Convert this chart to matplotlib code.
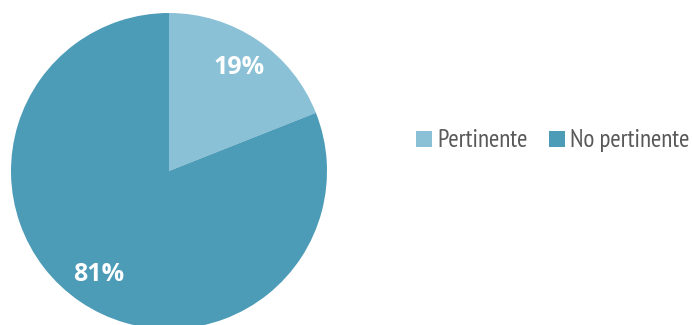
import matplotlib
matplotlib.use("Agg")
import matplotlib.pyplot as plt
from matplotlib.patches import Patch

labels = ["Pertinente", "No pertinente"]
values = [19, 81]
colors = ["#8bc1d6", "#4c9bb7"]

plt.rcParams["font.family"] = ["PT Sans Narrow", "DejaVu Sans"]

W, H = 692, 325
fig = plt.figure(figsize=(W / 100, H / 100), dpi=100)

# pie axes: centre (169, 171) px, radius 158 px
cx, cy, r = 169, 171, 158
ax = fig.add_axes([(cx - r) / W, (H - cy - r) / H, 2 * r / W, 2 * r / H])
wedges, texts, autotexts = ax.pie(
    values, colors=colors, startangle=90, counterclock=False,
    radius=1, autopct=lambda p: f"{p:.0f}%", pctdistance=0.79,
    wedgeprops=dict(linewidth=0))
for t in autotexts:
    t.set_color("white")
    t.set_fontsize(18)
    t.set_fontweight("bold")
    t.set_fontfamily(["Open Sans", "DejaVu Sans"])
ax.set_xlim(-1, 1)
ax.set_ylim(-1, 1)
ax.set_aspect("auto")
ax.axis("off")

fs = 18
px = fs * 100 / 72
handles = [Patch(facecolor=c, edgecolor="none") for c in colors]
fig.legend(handles, labels, ncol=2, loc="center left",
           bbox_to_anchor=(416 / W, 1 - 141 / H), frameon=False,
           borderaxespad=0, borderpad=0,
           prop=dict(size=fs), labelcolor="#595959",
           handlelength=16 / px, handleheight=15 / px,
           handletextpad=5 / px, columnspacing=22 / px)

fig.savefig("out.png", dpi=100)
